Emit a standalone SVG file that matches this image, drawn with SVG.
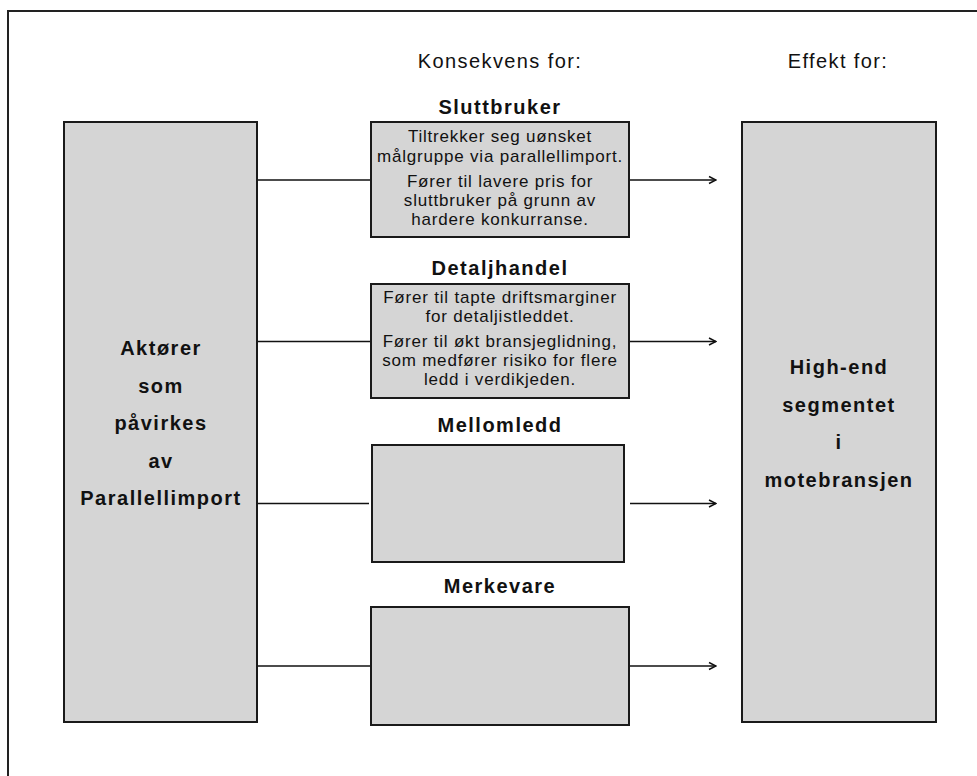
<svg xmlns="http://www.w3.org/2000/svg" width="977" height="776" viewBox="0 0 977 776">
<defs>
<marker id="arr" viewBox="0 0 10 10" refX="9" refY="5" markerWidth="10" markerHeight="10" markerUnits="userSpaceOnUse" orient="auto">
<path d="M2,1.5 L9,5 L2,8.5" fill="none" stroke="#111" stroke-width="1.5"/>
</marker>
</defs>
<style>
.box{fill:#d5d5d5;stroke:#1a1a1a;stroke-width:2}
.frame{fill:#fff;stroke:#222;stroke-width:2}
.big{font-family:"Liberation Sans",Arial,sans-serif;font-weight:bold;font-size:20px;letter-spacing:1.5px;fill:#111;text-anchor:middle}
.hdr{font-family:"Liberation Sans",Arial,sans-serif;font-size:20px;letter-spacing:1.4px;fill:#111;text-anchor:middle}
.body{font-family:"Liberation Sans",Arial,sans-serif;font-size:17px;letter-spacing:0.8px;fill:#111;text-anchor:middle}
.ln{stroke:#111;stroke-width:1.5;fill:none}
</style>
<rect class="frame" x="8" y="11" width="1000" height="800"/>
<text class="hdr" x="500" y="68">Konsekvens for:</text>
<text class="hdr" x="838" y="68">Effekt for:</text>
<g id="connectors">
<line class="ln" x1="257" y1="180" x2="371" y2="180"/>
<line class="ln" x1="629" y1="180" x2="716" y2="180" marker-end="url(#arr)"/>
<line class="ln" x1="257" y1="341.5" x2="371" y2="341.5"/>
<line class="ln" x1="629" y1="341.5" x2="716" y2="341.5" marker-end="url(#arr)"/>
<line class="ln" x1="257" y1="503.5" x2="369" y2="503.5"/>
<line class="ln" x1="630" y1="503.5" x2="716" y2="503.5" marker-end="url(#arr)"/>
<line class="ln" x1="257" y1="666" x2="371" y2="666"/>
<line class="ln" x1="629" y1="666" x2="716" y2="666" marker-end="url(#arr)"/>
</g>
<g id="aktorer">
<rect class="box" x="64" y="122" width="193" height="600"/>
<text class="big" x="161" y="355">Aktører</text>
<text class="big" x="161" y="392.5">som</text>
<text class="big" x="161" y="430">påvirkes</text>
<text class="big" x="161" y="467.5">av</text>
<text class="big" x="161" y="505">Parallellimport</text>
</g>
<g id="sluttbruker">
<text class="big" x="500" y="114">Sluttbruker</text>
<rect class="box" x="371" y="122" width="258" height="115"/>
<text class="body" x="500" y="142">Tiltrekker seg uønsket</text>
<text class="body" x="500" y="161.5">målgruppe via parallellimport.</text>
<text class="body" x="500" y="186.5">Fører til lavere pris for</text>
<text class="body" x="500" y="205.5">sluttbruker på grunn av</text>
<text class="body" x="500" y="224.5">hardere konkurranse.</text>
</g>
<g id="detaljhandel">
<text class="big" x="500" y="275">Detaljhandel</text>
<rect class="box" x="371" y="284" width="258" height="114"/>
<text class="body" x="500" y="303">Fører til tapte driftsmarginer</text>
<text class="body" x="500" y="322">for detaljistleddet.</text>
<text class="body" x="500" y="347">Fører til økt bransjeglidning,</text>
<text class="body" x="500" y="366">som medfører risiko for flere</text>
<text class="body" x="500" y="385">ledd i verdikjeden.</text>
</g>
<g id="mellomledd">
<text class="big" x="500" y="432">Mellomledd</text>
<rect class="box" x="372" y="445" width="252" height="117"/>
</g>
<g id="merkevare">
<text class="big" x="500" y="593">Merkevare</text>
<rect class="box" x="371" y="607" width="258" height="118"/>
</g>
<g id="highend">
<rect class="box" x="742" y="122" width="194" height="600"/>
<text class="big" x="839" y="374">High-end</text>
<text class="big" x="839" y="411.5">segmentet</text>
<text class="big" x="839" y="449">i</text>
<text class="big" x="839" y="486.5">motebransjen</text>
</g>
</svg>
